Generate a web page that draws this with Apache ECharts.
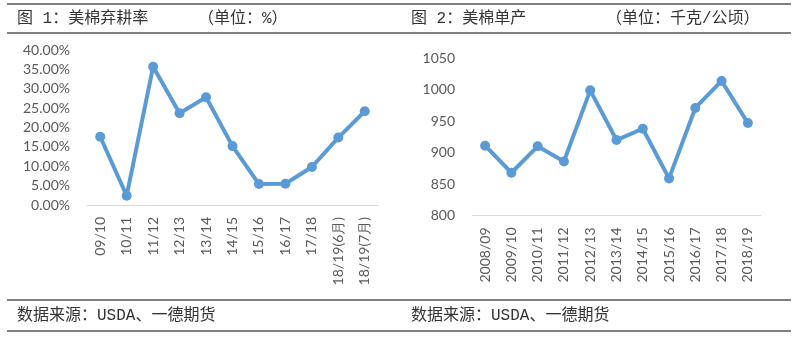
<!DOCTYPE html>
<html><head><meta charset="utf-8">
<script src="https://cdn.jsdelivr.net/npm/echarts@6/dist/echarts.min.js"></script>
<style>html,body{margin:0;padding:0;background:#fff}#c{width:800px;height:341px}</style>
</head><body><div id="c"></div>
<script>
const cats1 = ['09/10','10/11','11/12','12/13','13/14','14/15','15/16','16/17','17/18','18/19(6月)','18/19(7月)'];
const abandonRate = [17.6, 2.4, 35.7, 23.7, 27.8, 15.2, 5.4, 5.5, 9.8, 17.4, 24.2];
const cats2 = ['2008/09','2009/10','2010/11','2011/12','2012/13','2013/14','2014/15','2015/16','2016/17','2017/18','2018/19'];
const yieldVals = [911, 868, 910, 886, 999, 920, 938, 859, 971, 1014, 947];
const title1 = '图 1：美棉弃耕率';
const unit1 = '（单位：%）';
const title2 = '图 2：美棉单产';
const unit2 = '（单位：千克/公顷）';
const source = '数据来源：USDA、一德期货';

const chart = echarts.init(document.getElementById('c'));
const blue = '#5B9BD5';
const lab = {color:'#595959', fontFamily:'Lato, "Liberation Sans", sans-serif', fontSize:14};
const cjk = '"Liberation Mono", "Noto Sans CJK SC", sans-serif';
function rule(x1,x2,y){return {type:'line',shape:{x1:x1,y1:y,x2:x2,y2:y},style:{stroke:'#808080',lineWidth:2}};}
function txt(x,y,t){return {type:'text',x:x,y:y,style:{text:t,fill:'#333',font:'16px '+cjk,textVerticalAlign:'middle'}};}
const xAxisCommon = {
  type:'category', boundaryGap:true,
  axisLine:{lineStyle:{color:'#d9d9d9',width:1}}, axisTick:{show:false},
  axisLabel:Object.assign({rotate:90, margin:12, interval:0}, lab)
};
const yAxisCommon = {
  type:'value', axisLine:{show:false}, axisTick:{show:false}, splitLine:{show:false}
};
chart.setOption({
  animation:false,
  grid:[{left:87, top:50, width:291, height:155},{left:472, top:58.3, width:289, height:157.2}],
  xAxis:[Object.assign({gridIndex:0, data:cats1}, xAxisCommon), Object.assign({gridIndex:1, data:cats2}, xAxisCommon)],
  yAxis:[
    Object.assign({gridIndex:0, min:0, max:40, interval:5, axisLabel:Object.assign({margin:17, formatter:v=>v.toFixed(2)+'%'}, lab)}, yAxisCommon),
    Object.assign({gridIndex:1, min:800, max:1050, interval:50, axisLabel:Object.assign({margin:17, formatter:v=>String(v)}, lab)}, yAxisCommon)
  ],
  series:[
    {type:'line', xAxisIndex:0, yAxisIndex:0, data:abandonRate, symbol:'circle', symbolSize:10,
     lineStyle:{color:blue,width:4}, itemStyle:{color:blue}},
    {type:'line', xAxisIndex:1, yAxisIndex:1, data:yieldVals, symbol:'circle', symbolSize:10,
     lineStyle:{color:blue,width:4}, itemStyle:{color:blue}}
  ],
  graphic:[
    rule(7,791,4), rule(7,791,33), rule(7,791,300), rule(7,791,331),
    txt(17,19,title1), txt(198,19,unit1), txt(411,19,title2), txt(606,19,unit2),
    txt(17,316,source), txt(411,316,source)
  ]
});
</script></body></html>
